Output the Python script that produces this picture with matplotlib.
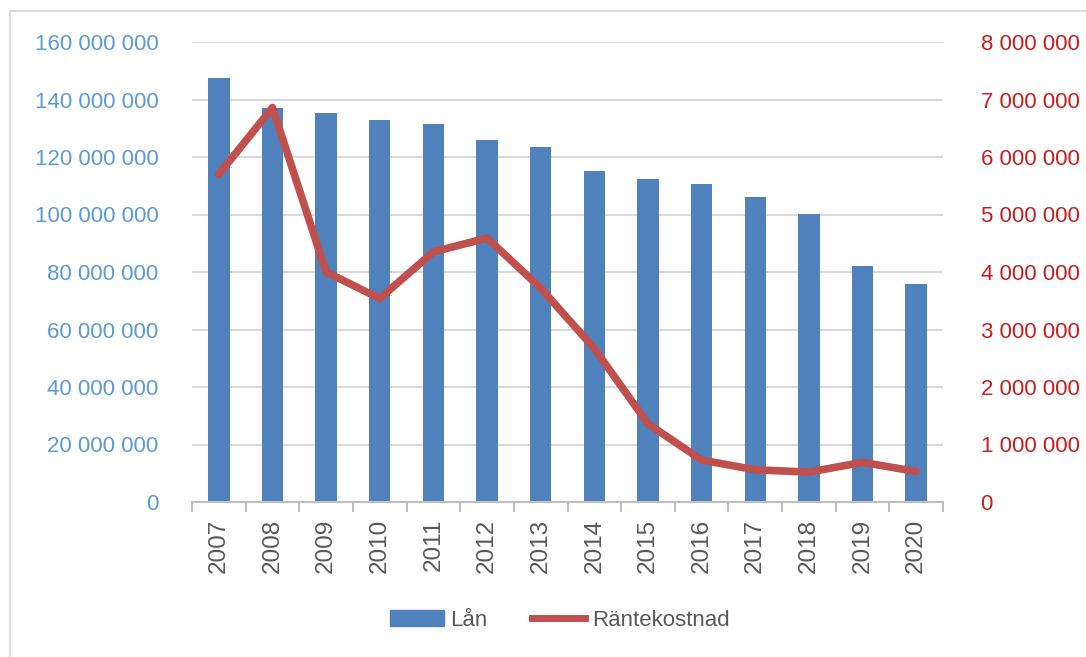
import numpy as np
import matplotlib.pyplot as plt
from matplotlib.ticker import FuncFormatter
from matplotlib.patches import Rectangle
from matplotlib.lines import Line2D
from matplotlib.patches import Patch

# Data
years = ['2007', '2008', '2009', '2010', '2011', '2012', '2013',
         '2014', '2015', '2016', '2017', '2018', '2019', '2020']
lan = [147.6e6, 136.9e6, 135.4e6, 132.9e6, 131.4e6, 125.8e6, 123.4e6,
       115.2e6, 112.2e6, 110.7e6, 106.2e6, 100.1e6, 82.0e6, 75.8e6]
rantekostnad = [5.70e6, 6.86e6, 4.00e6, 3.54e6, 4.35e6, 4.59e6, 3.72e6,
                2.67e6, 1.36e6, 0.73e6, 0.56e6, 0.52e6, 0.69e6, 0.53e6]

bar_color = '#4F81BD'
line_color = '#C0504D'
left_color = '#5B9BD5'
right_color = '#C81E1E'
text_gray = '#595959'

plt.rcParams['font.family'] = ['Liberation Sans', 'DejaVu Sans']
fs = 16

def spaced(v, pos):
    return f'{int(round(v)):,}'.replace(',', ' ')

fig = plt.figure(figsize=(10.86, 6.57), dpi=100)
ax = fig.add_axes([192 / 1086, 1 - 502 / 657, (943 - 192) / 1086, (502 - 42) / 657])
ax2 = ax.twinx()

x = np.arange(len(years))
ax.bar(x, lan, width=0.4, color=bar_color, zorder=2)
ax2.plot(x, rantekostnad, color=line_color, lw=5.5, solid_capstyle='round', zorder=3)

ax.set_xlim(-0.5, len(years) - 0.5)
ax.set_ylim(0, 160e6)
ax.set_yticks(np.arange(0, 160e6 + 1, 20e6))
ax2.set_ylim(0, 8e6)
ax2.set_yticks(np.arange(0, 8e6 + 1, 1e6))
ax.yaxis.set_major_formatter(FuncFormatter(spaced))
ax2.yaxis.set_major_formatter(FuncFormatter(spaced))

ax.grid(axis='y', color='#D9D9D9', lw=1.5, zorder=0)
ax.set_axisbelow(True)

for a in (ax, ax2):
    for s in ['top', 'left', 'right']:
        a.spines[s].set_visible(False)
ax2.spines['bottom'].set_visible(False)
ax.spines['bottom'].set_color('#BFBFBF')
ax.spines['bottom'].set_linewidth(1.5)

ax.tick_params(axis='y', length=0, pad=24, labelsize=fs, labelcolor=left_color)
ax2.tick_params(axis='y', length=0, pad=27, labelsize=fs, labelcolor=right_color)

# year labels at centers, tick marks at category boundaries
ax.set_xticks(x)
ax.set_xticklabels(years, rotation=90, fontsize=fs + 1.5, color=text_gray)
ax.tick_params(axis='x', which='major', length=0, pad=12)
ax.set_xticks(np.arange(-0.5, len(years), 1), minor=True)
ax.tick_params(axis='x', which='minor', length=7, width=1.5, color='#BFBFBF')

handles = [Patch(color=bar_color, label='Lån'),
           Line2D([0], [0], color=line_color, lw=5, label='Räntekostnad')]
fig.legend(handles=handles, loc='center', bbox_to_anchor=(560 / 1086, 1 - 620 / 657),
           ncol=2, frameon=False, fontsize=fs, labelcolor=text_gray,
           handlelength=2.4, handletextpad=0.3, columnspacing=2.0)

# outer chart frame (cut off on right and bottom)
fig.patches.append(Rectangle((10 / 1086, -0.1), 1.2, 1 - 11 / 657 + 0.1,
                             transform=fig.transFigure, fill=False,
                             edgecolor='#D9D9D9', lw=1.5))

fig.savefig('out.png', dpi=100)
